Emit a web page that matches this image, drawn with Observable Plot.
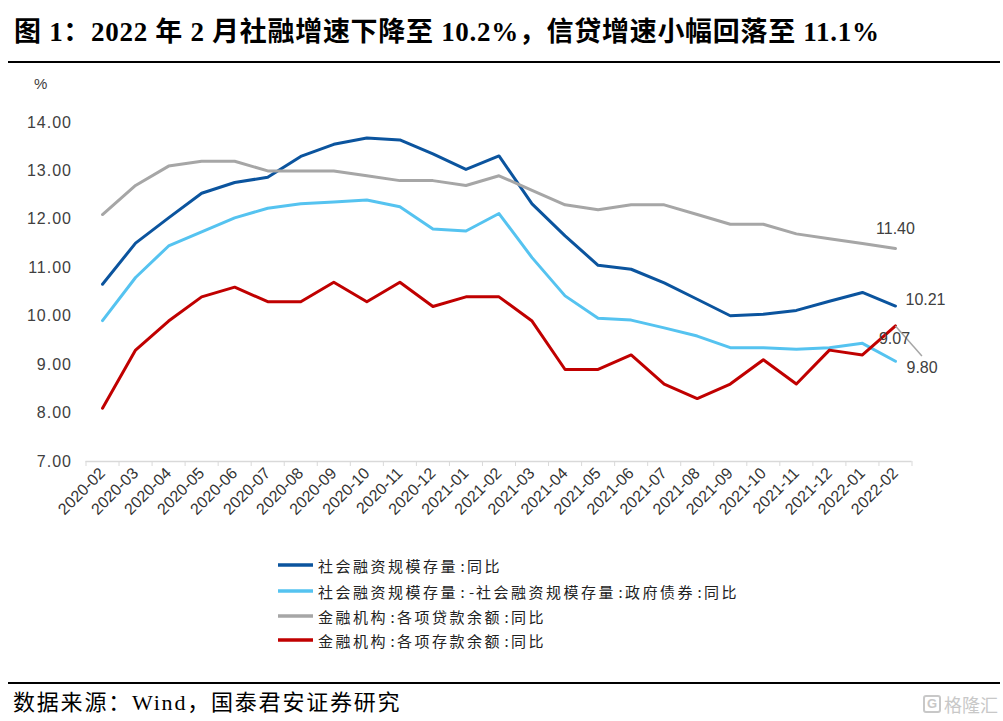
<!DOCTYPE html>
<html>
<head>
<meta charset="utf-8">
<script src="https://cdn.jsdelivr.net/npm/d3@7"></script>
<script src="https://cdn.jsdelivr.net/npm/@observablehq/plot@0.6"></script>
<style>
  html, body { margin: 0; padding: 0; background: #fff; }
  #page { position: relative; width: 1003px; height: 721px; overflow: hidden; background: #fff; }
  #title { position: absolute; left: 14px; top: 13px; font-family: "Liberation Serif", "Noto Sans CJK SC", serif; font-weight: bold; font-size: 27px; line-height: 38px; color: #000; white-space: nowrap; letter-spacing: 0.7px; }
  .rule { position: absolute; left: 8px; width: 992px; height: 2px; background: #000; }
  #unit { position: absolute; left: 34px; top: 75px; font-family: "Liberation Sans", Arial, sans-serif; font-size: 15px; color: #404040; }
  #chart { position: absolute; left: 0; top: 70px; }
  #legend { position: absolute; left: 278px; top: 553px; font-family: "Noto Sans CJK SC", sans-serif; font-size: 15px; color: #222; }
  .row { position: absolute; left: 0; height: 24px; white-space: nowrap; display: flex; align-items: center; }
  .row svg { margin-right: 5px; }
  .row .t { letter-spacing: 2.5px; }
  .row .p { display: inline-block; width: 9px; text-align: center; letter-spacing: 0; }
  #source { position: absolute; left: 13px; top: 688px; font-family: "Liberation Serif", "Noto Sans CJK SC", serif; font-size: 22px; line-height: 30px; color: #000; letter-spacing: 1.8px; white-space: nowrap; }
  #mark { position: absolute; left: 923px; top: 691px; font-family: "Noto Sans CJK SC", sans-serif; font-size: 18px; color: #c8c8c8; white-space: nowrap; display: flex; align-items: center; }
  #mark .g { display: inline-block; width: 18px; height: 18px; border: 2px solid #c8c8c8; border-radius: 3px; font-family: "Liberation Sans", sans-serif; font-size: 13px; text-align: center; font-weight: bold; margin-right: 3px; box-sizing: border-box; line-height: 14px; }
</style>
</head>
<body>
<div id="page">
  <div id="title">图 1：2022 年 2 月社融增速下降至 10.2%，信贷增速小幅回落至 11.1%</div>
  <div class="rule" style="top:61px"></div>
  <div id="unit">%</div>
  <div id="chart"></div>
  <div id="legend"></div>
  <div class="rule" style="top:682px"></div>
  <div id="source">数据来源：Wind，国泰君安证券研究</div>
  <div id="mark"><span class="g">G</span>格隆汇</div>
</div>
<script>
// ---- data ----
const months = ["2020-02","2020-03","2020-04","2020-05","2020-06","2020-07","2020-08","2020-09","2020-10","2020-11","2020-12","2021-01","2021-02","2021-03","2021-04","2021-05","2021-06","2021-07","2021-08","2021-09","2021-10","2021-11","2021-12","2022-01","2022-02"];
const seriesNames = ["社会融资规模存量:同比","社会融资规模存量:-社会融资规模存量:政府债券:同比","金融机构:各项贷款余额:同比","金融机构:各项存款余额:同比"];
const seriesColors = ["#0B549E","#55C3F0","#A6A6A6","#C00000"];
const tsf = [10.66,11.51,12.03,12.54,12.76,12.87,13.30,13.55,13.68,13.64,13.35,13.03,13.31,12.32,11.66,11.05,10.97,10.69,10.35,10.01,10.04,10.12,10.31,10.49,10.21];
const tsfExGov = [9.91,10.80,11.45,11.74,12.03,12.23,12.32,12.36,12.40,12.26,11.80,11.76,12.12,11.21,10.42,9.96,9.92,9.76,9.59,9.35,9.35,9.32,9.35,9.44,9.07];
const loans = [12.1,12.7,13.1,13.2,13.2,13.0,13.0,13.0,12.9,12.8,12.8,12.7,12.9,12.6,12.3,12.2,12.3,12.3,12.1,11.9,11.9,11.7,11.6,11.5,11.40];
const deposits = [8.1,9.3,9.9,10.4,10.6,10.3,10.3,10.7,10.3,10.7,10.2,10.4,10.4,9.9,8.9,8.9,9.2,8.6,8.3,8.6,9.1,8.6,9.3,9.2,9.80];
const yTicks = [7,8,9,10,11,12,13,14];

const allSeries = [tsf, tsfExGov, loans, deposits];
const rows = [];
allSeries.forEach((vals, s) => vals.forEach((v, i) => rows.push({i, month: months[i], value: v, series: seriesNames[s]})));
const last = months.length - 1;
const ends = allSeries.map((vals, s) => ({i: last, value: vals[last], series: seriesNames[s], label: d3.format(".2f")(vals[last])}));

const labelStyle = {fontSize: 16, fill: "#404040", fontFamily: "Liberation Sans, Arial, sans-serif"};

const chart = Plot.plot({
  width: 1003,
  height: 481,
  marginTop: 52,
  marginBottom: 90,
  marginLeft: 85.5,
  marginRight: 91.5,
  style: {fontFamily: "Liberation Sans, Arial, sans-serif", color: "#404040", background: "transparent", overflow: "visible"},
  x: {type: "linear", domain: [-0.5, last + 0.5]},
  y: {domain: [7, 14]},
  color: {domain: seriesNames, range: seriesColors},
  marks: [
    Plot.axisY({ticks: yTicks, tickSize: 0, tickPadding: 14, tickFormat: d3.format(".2f"), fontSize: 16, fill: "#404040", label: null}),
    Plot.ruleY([7], {stroke: "#d9d9d9", strokeWidth: 1.5}),
    Plot.axisX({ticks: d3.range(-0.5, last + 1, 1), tickSize: 5, tickFormat: () => "", stroke: "#d9d9d9", label: null}),
    Plot.axisX({ticks: d3.range(0, last + 1), tickSize: 0, tickPadding: 9, tickRotate: -45, tickFormat: i => months[i], fontSize: 16, fill: "#333", label: null}),
    Plot.line(rows, {x: "i", y: "value", z: "series", stroke: "series", strokeWidth: 3}),
    // leader for the deposit label
    Plot.link([ends[3]], {x1: "i", y1: "value", x2: d => d.i + 0.8, y2: d => d.value - 0.62, stroke: "#A6A6A6", strokeWidth: 1.5}),
    Plot.text([ends[2]], {x: "i", y: "value", text: "label", dy: -20, textAnchor: "middle", ...labelStyle}),
    Plot.text([ends[0]], {x: "i", y: "value", text: "label", dx: 10, dy: -6, textAnchor: "start", ...labelStyle}),
    Plot.text([ends[1]], {x: "i", y: "value", text: "label", dx: -1, dy: -22, textAnchor: "middle", ...labelStyle}),
    Plot.text([ends[3]], {x: "i", y: "value", text: "label", dx: 11, dy: 42, textAnchor: "start", ...labelStyle})
  ]
});
// y tick labels: slightly spaced digits like the original
const yLabelTexts = yTicks.map(d3.format(".2f"));
d3.select(chart).selectAll("text").filter(function() { return yLabelTexts.includes(this.textContent) && !this.closest('[aria-label="text"]'); })
  .attr("font-size", 16).style("font-size", "16px").style("letter-spacing", "1px");
document.getElementById("chart").appendChild(chart);

// legend
const legend = document.getElementById("legend");
const rowTops = [0, 26, 51, 75];
seriesNames.forEach((name, k) => {
  const row = document.createElement("div");
  row.className = "row";
  row.style.top = rowTops[k] + "px";
  const html = name.replace(/[:\-]/g, c => `</span><span class="p">${c}</span><span class="t">`);
  row.innerHTML = `<svg width="35" height="6"><line x1="0" x2="35" y1="3" y2="3" stroke="${seriesColors[k]}" stroke-width="3.5"/></svg><span class="t">${html}</span>`;
  legend.appendChild(row);
});
</script>
</body>
</html>
